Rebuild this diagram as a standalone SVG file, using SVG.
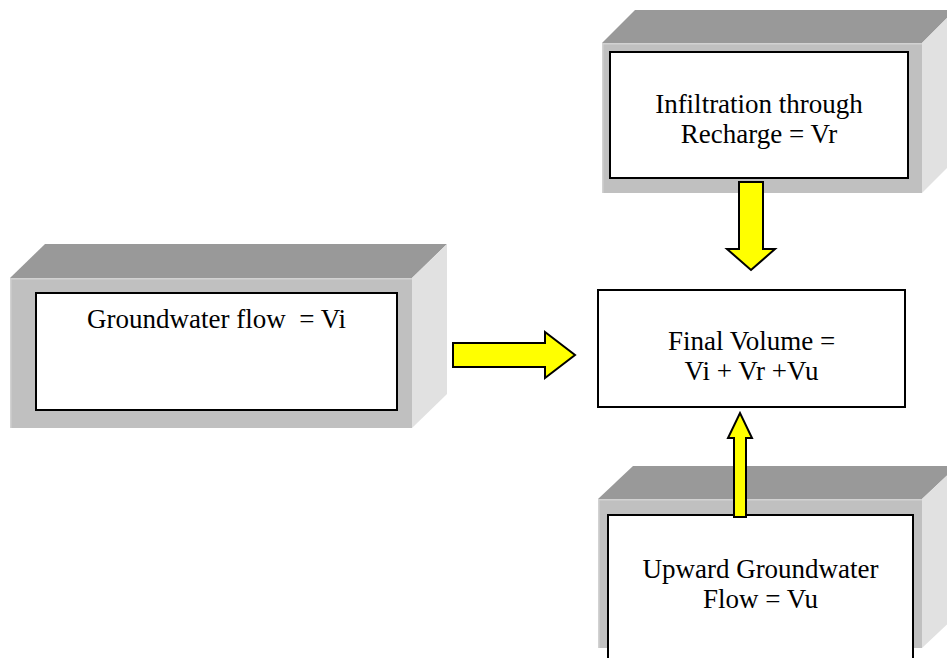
<svg xmlns="http://www.w3.org/2000/svg" width="947" height="658" viewBox="0 0 947 658">
  <style>
    .top { fill: #999999; }
    .front { fill: #c0c0c0; }
    .side { fill: #e1e1e1; }
    .hl { fill: none; stroke: #d2d2d2; stroke-width: 1.5; }
    .panel { fill: #ffffff; stroke: #000000; stroke-width: 2; }
    .label { font-family: "Liberation Serif", "Times New Roman", serif; font-size: 27px; fill: #000000; text-anchor: middle; white-space: pre; }
    .arrow { fill: #ffff00; stroke: #000000; stroke-width: 2; stroke-linejoin: miter; }
  </style>
  <rect width="947" height="658" fill="#ffffff"/>

  <!-- Raised block: infiltration through recharge -->
  <g id="recharge">
    <polygon class="top" points="602,43 635,10 955,10 922,43"/>
    <polygon class="side" points="922,43 955,10 955,160 922,193"/>
    <rect class="front" x="602" y="43" width="320" height="150"/>
    <polyline class="hl" points="602.75,193 602.75,43.75 922,43.75"/>
    <rect class="panel" x="610" y="52" width="298" height="126"/>
    <text class="label" x="759" y="113">Infiltration through</text>
    <text class="label" x="759" y="143">Recharge = Vr</text>
  </g>

  <!-- Raised block: lateral groundwater inflow -->
  <g id="groundwater">
    <polygon class="top" points="10,278 45,244 447,244 412,278"/>
    <polygon class="side" points="412,278 447,244 447,394 412,428"/>
    <rect class="front" x="10" y="278" width="402" height="150"/>
    <polyline class="hl" points="10.75,428 10.75,278.75 412,278.75"/>
    <rect class="panel" x="36" y="293" width="361" height="117"/>
    <text class="label" x="216.5" y="328">Groundwater flow  = Vi</text>
  </g>

  <!-- Flat result box -->
  <g id="final-volume">
    <rect class="panel" x="598" y="290" width="307" height="117"/>
    <text class="label" x="751.5" y="350">Final Volume =</text>
    <text class="label" x="751.5" y="380">Vi + Vr +Vu</text>
  </g>

  <!-- Raised block: upward groundwater flow -->
  <g id="upward">
    <polygon class="top" points="598,499 633,466 957,466 922,499"/>
    <polygon class="side" points="922,499 957,466 957,615 922,648"/>
    <rect class="front" x="598" y="499" width="324" height="149"/>
    <polyline class="hl" points="598.75,648 598.75,499.75 922,499.75"/>
    <rect class="panel" x="608" y="515" width="305" height="145"/>
    <text class="label" x="760.5" y="578">Upward Groundwater</text>
    <text class="label" x="760.5" y="608">Flow = Vu</text>
  </g>

  <!-- Block arrows into the result box -->
  <g id="connectors">
    <polygon class="arrow" points="453,343 545,343 545,332 575,355 545,378 545,367 453,367"/>
    <polygon class="arrow" points="739,182 763,182 763,249 775,249 751,270 727,249 739,249"/>
    <polygon class="arrow" points="734,517 734,438 728,438 740,413 752,438 746,438 746,517"/>
  </g>
</svg>
